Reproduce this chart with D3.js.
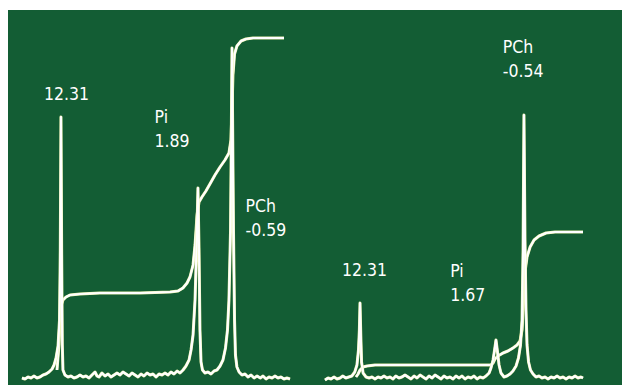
<!DOCTYPE html>
<html>
<head>
<meta charset="utf-8">
<script src="https://cdn.jsdelivr.net/npm/d3@7/dist/d3.min.js"></script>
<style>
  html, body { margin: 0; padding: 0; background: #fff; }
  svg { display: block; }
  .lbl { font-family: "DejaVu Sans Condensed", "DejaVu Sans", sans-serif; font-stretch: condensed; font-size: 17.5px; fill: #fff; }
</style>
</head>
<body>
<svg id="chart" width="622" height="385"></svg>
<script>
// 31P spectra, [ppm, intensity (a.u.)]
var leftSpectrum = [
  [15.24, 2], [15.02, 1], [14.79, 3], [14.56, 2], [14.34, 4], [14.11, 2], [13.89, 3], [13.66, 5],
  [13.44, 6], [13.21, 8], [12.98, 11], [12.83, 15], [12.68, 22], [12.53, 34], [12.42, 60], [12.36, 130],
  [12.31, 263], [12.26, 130], [12.21, 35], [12.16, 10], [12.01, 5], [11.78, 3], [11.56, 4], [11.33, 2],
  [11.11, 3], [10.88, 5], [10.65, 3], [10.43, 4], [10.20, 2], [9.98, 5], [9.75, 8], [9.60, 4],
  [9.45, 3], [9.23, 7], [9.00, 4], [8.77, 6], [8.55, 3], [8.32, 5], [8.10, 7], [7.87, 5],
  [7.65, 8], [7.42, 6], [7.19, 4], [6.97, 7], [6.74, 5], [6.52, 3], [6.29, 6], [6.07, 4],
  [5.84, 7], [5.61, 5], [5.39, 6], [5.16, 3], [4.94, 6], [4.71, 5], [4.49, 7], [4.26, 5],
  [4.04, 8], [3.81, 6], [3.58, 9], [3.36, 7], [3.13, 10], [2.91, 14], [2.68, 20], [2.53, 30],
  [2.38, 45], [2.23, 80], [2.12, 130], [2.01, 192], [1.93, 130], [1.86, 50], [1.78, 18], [1.67, 10],
  [1.48, 7], [1.26, 8], [1.03, 6], [0.80, 9], [0.58, 10], [0.35, 14], [0.13, 20], [-0.06, 32],
  [-0.21, 50], [-0.32, 80], [-0.44, 150], [-0.55, 332], [-0.66, 150], [-0.74, 60], [-0.81, 25], [-0.92, 13],
  [-1.08, 8], [-1.30, 5], [-1.53, 6], [-1.75, 3], [-1.98, 5], [-2.21, 2], [-2.43, 4], [-2.68, 2],
  [-2.88, 4], [-3.11, 1], [-3.33, 3], [-3.56, 2], [-3.78, 4], [-4.01, 2], [-4.23, 3], [-4.46, 1],
  [-4.68, 2], [-4.91, 1]
];
var leftIntegral = [
  [12.61, 10], [12.46, 35], [12.38, 62], [12.31, 74], [12.16, 80], [11.93, 83], [11.63, 85], [10.88, 86],
  [9.38, 87], [6.37, 87], [4.11, 88], [3.51, 89], [3.14, 92], [2.83, 97], [2.61, 103], [2.38, 115],
  [2.23, 135], [2.08, 165], [1.93, 178], [1.71, 183], [1.41, 189], [1.11, 196], [0.73, 205], [0.35, 213],
  [-0.02, 220], [-0.32, 227], [-0.47, 240], [-0.55, 270], [-0.62, 305], [-0.74, 326], [-0.92, 334], [-1.23, 339],
  [-1.60, 341], [-2.13, 342], [-4.46, 342]
];
var rightSpectrum = [
  [15.05, 0], [14.81, 2], [14.58, 1], [14.34, 3], [14.11, 1], [13.87, 2], [13.66, 4], [13.42, 2],
  [13.19, 3], [12.95, 4], [12.72, 8], [12.55, 15], [12.43, 30], [12.36, 50], [12.31, 77], [12.25, 45],
  [12.19, 18], [12.07, 7], [11.84, 3], [11.60, 2], [11.37, 3], [11.14, 1], [10.90, 3], [10.67, 2],
  [10.43, 4], [10.20, 2], [9.96, 3], [9.73, 1], [9.51, 4], [9.26, 2], [9.03, 3], [8.79, 5],
  [8.55, 3], [8.32, 1], [8.08, 4], [7.85, 2], [7.61, 5], [7.38, 3], [7.14, 1], [6.91, 4],
  [6.67, 2], [6.44, 5], [6.20, 3], [5.97, 1], [5.74, 4], [5.50, 2], [5.27, 3], [5.03, 1],
  [4.80, 4], [4.56, 2], [4.33, 4], [4.09, 1], [3.86, 3], [3.62, 2], [3.39, 4], [3.15, 1],
  [2.92, 3], [2.68, 2], [2.45, 4], [2.21, 7], [2.06, 12], [1.90, 20], [1.78, 30], [1.67, 40],
  [1.55, 28], [1.43, 15], [1.28, 7], [1.04, 3], [0.81, 4], [0.57, 6], [0.34, 9], [0.10, 14],
  [-0.09, 22], [-0.25, 35], [-0.37, 60], [-0.45, 130], [-0.52, 265], [-0.60, 140], [-0.68, 70], [-0.76, 35],
  [-0.88, 18], [-1.03, 10], [-1.23, 6], [-1.46, 3], [-1.70, 4], [-1.93, 2], [-2.17, 3], [-2.40, 1],
  [-2.64, 3], [-2.87, 2], [-3.11, 4], [-3.34, 2], [-3.58, 3], [-3.81, 1], [-4.05, 3], [-4.28, 2],
  [-4.52, 4], [-4.75, 2], [-4.98, 3], [-5.14, 2]
];
var rightIntegral = [
  [12.62, 3], [12.46, 6], [12.31, 10], [12.07, 13], [11.76, 14], [11.14, 15], [9.18, 15], [5.27, 15],
  [2.06, 15], [1.90, 17], [1.75, 21], [1.51, 24], [1.12, 27], [0.73, 29], [0.34, 32], [0.02, 35],
  [-0.21, 39], [-0.37, 50], [-0.49, 80], [-0.60, 108], [-0.76, 123], [-1.00, 133], [-1.31, 140], [-1.70, 144],
  [-2.25, 147], [-2.95, 148], [-5.14, 148]
];
var leftLabels = [["12.31"], ["Pi", "1.89"], ["PCh", "-0.59"]];
var rightLabels = [["12.31"], ["Pi", "1.67"], ["PCh", "-0.54"]];
var labelPpm = [12.31, 1.89, -0.59];

var svg = d3.select("#chart");
var W = 622, H = 385;

svg.append("rect")
  .attr("x", 8).attr("y", 10)
  .attr("width", W - 8).attr("height", H - 10)
  .attr("fill", "#135d34");

var y = d3.scaleLinear().domain([0, 350]).range([380, 30]);

var panels = [
  { x: d3.scaleLinear().domain([15.24, -4.91]).range([22, 290]),
    spec: leftSpectrum, integ: leftIntegral, labels: leftLabels,
    // label offsets from peak, in px
    place: [[-17, 100], [-45, 147], [13, 236]] },
  { x: d3.scaleLinear().domain([15.05, -5.14]).range([325, 583]),
    spec: rightSpectrum, integ: rightIntegral, labels: rightLabels,
    place: [[-18, 276], [-43, 301], [-22, 77]] }
];

panels.forEach(function (p) {
  var line = d3.line()
    .x(function (d) { return p.x(d[0]); })
    .y(function (d) { return y(d[1]); });

  [p.integ, p.spec].forEach(function (s) {
    svg.append("path").datum(s)
      .attr("d", line)
      .attr("fill", "none")
      .attr("stroke", "#eef2b0")
      .attr("stroke-width", 3)
      .attr("stroke-linejoin", "round");
    svg.append("path").datum(s)
      .attr("d", line)
      .attr("fill", "none")
      .attr("stroke", "#ffffff")
      .attr("stroke-width", 2.1)
      .attr("stroke-linejoin", "round");
  });

  var g = svg.append("g").selectAll("text")
    .data(p.labels)
    .enter().append("text")
    .attr("class", "lbl")
    .attr("x", function (d, i) { return p.x(labelPpm[i]) + p.place[i][0]; })
    .attr("y", function (d, i) { return p.place[i][1] - (d.length - 1) * 24; });

  g.selectAll("tspan")
    .data(function (d) { return d; })
    .enter().append("tspan")
    .attr("x", function () { return d3.select(this.parentNode).attr("x"); })
    .attr("dy", function (d, i) { return i ? 24 : 0; })
    .text(function (d) { return d; });
});
</script>
</body>
</html>
